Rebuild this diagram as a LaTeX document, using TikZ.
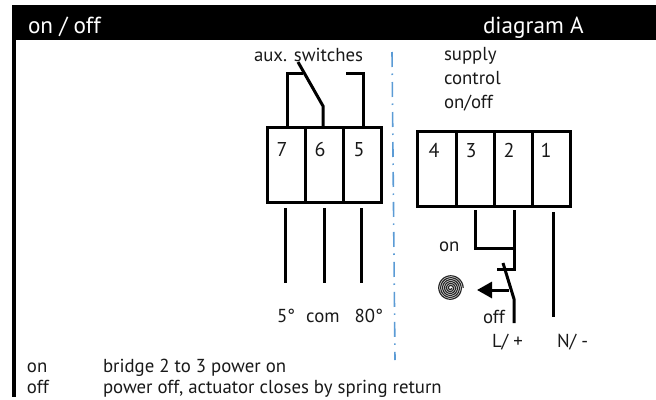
\documentclass[tikz,border=0pt]{standalone}
\usepackage{fontspec}
\setmainfont{PT Sans}
\usetikzlibrary{arrows.meta}
\definecolor{sepblue}{RGB}{91,155,213}
\tikzset{
 txt/.style={anchor=base west,inner sep=0pt,outer sep=0pt,font=\fontsize{18.8}{22}\selectfont,text=black!90},
 num/.style={anchor=base,inner sep=0pt,font=\fontsize{20}{24}\selectfont,text=black!90},
 head/.style={txt,text=white,font=\fontsize{23.2}{26}\selectfont},
 term/.style={draw=black,line width=3pt,minimum height=75pt,inner sep=0pt,outer sep=0pt,anchor=north west},
 wire/.style={draw=black,line width=3pt,line join=miter},
 dashdot/.style={draw=sepblue,line width=1.6pt,dash pattern=on 15pt off 6.5pt on 1.5pt off 7pt},
}
\begin{document}
\begin{tikzpicture}[x=1pt,y=-1pt]
\useasboundingbox (0,0) rectangle (656,399);
\fill[black] (12,5) rectangle (656,40);
\fill[black] (12,40) rectangle (15.5,397);
\node[head] (h1) at (28,33) {on / off};
\node[head] (h2) at (483,33) {diagram A};
% left terminal block
\node[term,minimum width=38pt] (t7) at (267,127) {};
\node[term,minimum width=38pt] (t6) at (305,127) {};
\node[term,minimum width=38pt] (t5) at (343,127) {};
\node[num] (n7) at (282,156) {7};
\node[num] (n6) at (320,156) {6};
\node[num] (n5) at (359,156) {5};
\node[txt] (aux) at (254,61) {aux. switches};
\coordinate (a7) at (287,127);
\coordinate (a6) at (323,127);
\coordinate (a5) at (363,127);
\coordinate (b7) at (285,208);
\coordinate (b6) at (324,208);
\coordinate (b5) at (361.5,208);
\coordinate (c7) at (285,283);
\coordinate (c6) at (324,283);
\coordinate (c5) at (361.5,283);
\draw[wire] (a7) -- (287,73) -- (303,73);
\draw[wire] (298,62) -- (323,106) -- (a6);
\draw[wire] (346,73) -- (363,73) -- (a5);
\draw[wire] (b7) -- (c7);
\draw[wire] (b6) -- (c6);
\draw[wire] (b5) -- (c5);
\node[txt] (deg) at (277,322) {5°\hspace{11pt}com\hspace{15pt}80°};
% separator
\coordinate (s1) at (392,52);
\coordinate (s2) at (395,360);
\draw[dashdot] (s1) -- (s2);
% right terminal block
\node[txt] (l1) at (444,60) {supply};
\node[txt] (l2) at (444,84) {control};
\node[txt] (l3) at (444,108) {on/off};
\node[term,minimum width=39pt] (r4) at (417,131) {};
\node[term,minimum width=38pt] (r3) at (456,131) {};
\node[term,minimum width=38pt] (r2) at (494,131) {};
\node[term,minimum width=38pt] (r1) at (532,131) {};
\node[num] (m4) at (434,157) {4};
\node[num] (m3) at (471,157) {3};
\node[num] (m2) at (509,157) {2};
\node[num] (m1) at (546,157) {1};
\coordinate (w3) at (475,210);
\coordinate (w2) at (514,210);
\coordinate (w1) at (553,212);
\coordinate (e1) at (553,317);
\coordinate (sw) at (514,299);
\coordinate (e2) at (514,323);
\coordinate (ar) at (509,290);
\coordinate (at) at (477,290);
\draw[wire] (w3) -- (475,248) -- (514,248);
\draw[wire] (w2) -- (514,269) -- (497,269);
\draw[wire] (503,263) -- (sw) -- (e2);
\draw[wire] (w1) -- (e1);
\draw[wire,-{Triangle[length=15pt,width=16pt]}] (ar) -- (at);
% spring
\draw[black!85,line width=1.2pt] plot[domain=0:2160,samples=260,smooth] ({450.5+(1+\x/185)*cos(\x)},{288+(1+\x/185)*sin(\x)});
\node[txt] (on) at (439,251) {on};
\node[txt] (off) at (483,323) {off};
\node[txt] (lp) at (492,347) {L/ +};
\node[txt] (nm) at (557,347) {N/ -};
% legend
\node[txt] (k1) at (27,372) {on};
\node[txt] (k2) at (27,393) {off};
\node[txt] (d1) at (103,372) {bridge 2 to 3 power on};
\node[txt] (d2) at (103,393) {power off, actuator closes by spring return};
\end{tikzpicture}
\end{document}
